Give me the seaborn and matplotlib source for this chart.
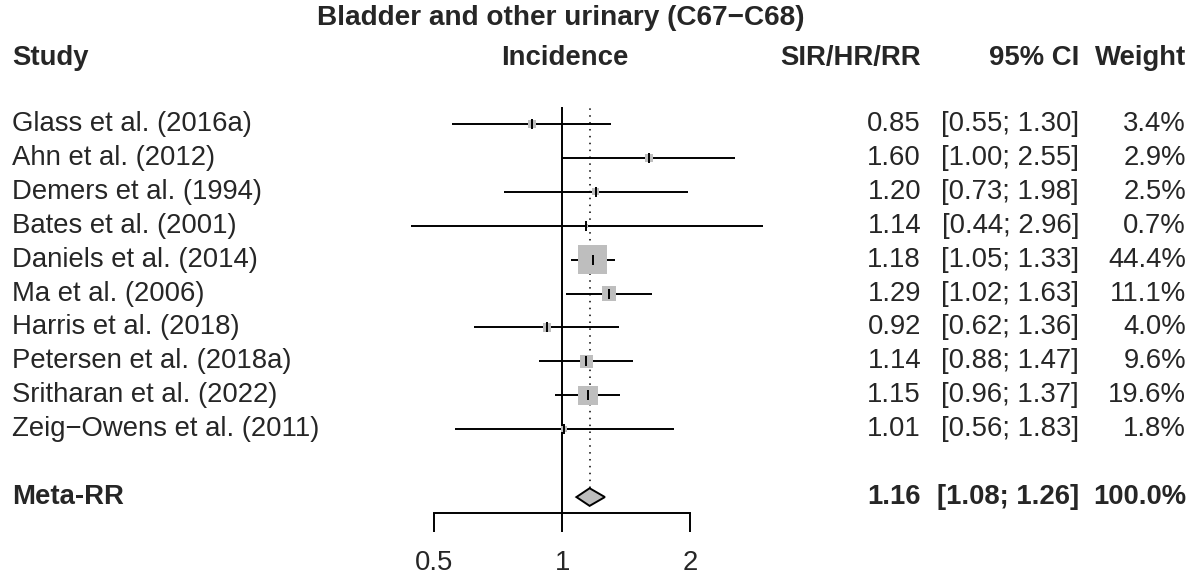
import numpy as np
import pandas as pd
import matplotlib
matplotlib.use("Agg")
import matplotlib.pyplot as plt
import matplotlib.transforms as mtransforms
import seaborn as sns

studies = ["Glass et al. (2016a)", "Ahn et al. (2012)", "Demers et al. (1994)",
           "Bates et al. (2001)", "Daniels et al. (2014)", "Ma et al. (2006)",
           "Harris et al. (2018)", "Petersen et al. (2018a)", "Sritharan et al. (2022)",
           "Zeig\u2212Owens et al. (2011)"]
estimate = [0.85, 1.60, 1.20, 1.14, 1.18, 1.29, 0.92, 1.14, 1.15, 1.01]
ci_low = [0.55, 1.00, 0.73, 0.44, 1.05, 1.02, 0.62, 0.88, 0.96, 0.56]
ci_high = [1.30, 2.55, 1.98, 2.96, 1.33, 1.63, 1.36, 1.47, 1.37, 1.83]
weight = [3.4, 2.9, 2.5, 0.7, 44.4, 11.1, 4.0, 9.6, 19.6, 1.8]

meta_label = "Meta-RR"
meta_est = 1.16
meta_low = 1.08
meta_high = 1.26
meta_weight = 100.0

title = "Bladder and other urinary (C67\u2212C68)"
headers = ["Study", "Incidence", "SIR/HR/RR", "95% CI", "Weight"]
tick_values = [0.5, 1, 2]
tick_labels = ["0.5", "1", "2"]

sns.set_theme(style="white")
plt.rcParams['font.family'] = ['Liberation Sans', 'DejaVu Sans']

W, H = 1192, 577
FS = 19.8
TFS = 20.2
fig = plt.figure(figsize=(W / 100, H / 100), dpi=100)
L, R, T, B = 393, 777, 107, 513
ax = fig.add_axes([L / W, 1 - B / H, (R - L) / W, (B - T) / H])

n = len(studies)
rows = np.arange(n)
meta_row = n + 1
df = pd.DataFrame({"study": studies, "est": estimate, "lo": ci_low, "hi": ci_high,
                   "w": weight, "row": rows})

ybot = meta_row + 0.47
ax.set_xscale("log")
ax.set_xlim(0.4, 3.2)
ax.set_ylim(ybot, -0.5)

# reference line at 1
ax.axvline(1, color="black", lw=1.4, zorder=1)

# dotted line at meta estimate, down to the diamond top
dh = 0.26
bot_frac = (ybot - (meta_row - dh)) / (ybot + 0.5)
ax.axvline(meta_est, ymin=bot_frac, ymax=1.0, color="black", lw=1.1,
           ls=(0, (1, 3.5)), zorder=1)

# CI lines
ax.hlines(df["row"], df["lo"], df["hi"], color="black", lw=1.4, zorder=2, clip_on=False)

# squares scaled by weight
sns.scatterplot(data=df, x="est", y="row", size="w",
                sizes=(9.6 * min(weight), 9.6 * max(weight)),
                size_norm=(min(weight), max(weight)),
                marker="s", color="#BEBEBE", edgecolor="none", linewidth=0,
                legend=False, ax=ax, zorder=3, clip_on=False)
# point estimate ticks
ax.scatter(df["est"], df["row"], marker="|", color="black", s=50, linewidths=1.4,
           zorder=4, clip_on=False)

# diamond
ax.fill([meta_low, meta_est, meta_high, meta_est],
        [meta_row, meta_row - dh, meta_row, meta_row + dh],
        facecolor="#BEBEBE", edgecolor="black", lw=1.4, zorder=4)

# axis styling
for s in ["left", "top", "right"]:
    ax.spines[s].set_visible(False)
ax.spines["bottom"].set_bounds(min(tick_values), max(tick_values))
ax.spines["bottom"].set_linewidth(1.4)
ax.spines["bottom"].set_color("black")
ax.set_xticks(tick_values)
ax.set_xticklabels(tick_labels, fontsize=FS)
ax.xaxis.set_minor_locator(matplotlib.ticker.NullLocator())
ax.tick_params(axis="x", direction="out", length=13.7, width=1.4, color="black",
               pad=13, bottom=True)
ax.set_yticks([])
ax.set_xlabel("")
ax.set_ylabel("")
ax.patch.set_alpha(0)

# text columns
tr = mtransforms.blended_transform_factory(fig.transFigure, ax.transData)
x_study, x_sir, x_ci, x_w = 12 / W, 921 / W, 1079 / W, 1186 / W
for _, r in df.iterrows():
    ax.text(x_study, r["row"], r["study"], transform=tr, ha="left", va="center", fontsize=FS)
    ax.text(x_sir, r["row"], f"{r['est']:.2f}", transform=tr, ha="right", va="center", fontsize=FS)
    ax.text(x_ci, r["row"], f"[{r['lo']:.2f}; {r['hi']:.2f}]", transform=tr, ha="right",
            va="center", fontsize=FS)
    ax.text(x_w, r["row"], f"{r['w']:.1f}%", transform=tr, ha="right", va="center", fontsize=FS)

ax.text(x_study, meta_row, meta_label, transform=tr, ha="left", va="center", fontsize=FS,
        fontweight="bold")
ax.text(x_sir, meta_row, f"{meta_est:.2f}", transform=tr, ha="right", va="center",
        fontsize=FS, fontweight="bold")
ax.text(x_ci, meta_row, f"[{meta_low:.2f}; {meta_high:.2f}]", transform=tr, ha="right",
        va="center", fontsize=FS, fontweight="bold")
ax.text(x_w, meta_row, f"{meta_weight:.1f}%", transform=tr, ha="right", va="center",
        fontsize=FS, fontweight="bold")

# headers
hy = 1 - 58 / H
fig.text(x_study, hy, headers[0], ha="left", va="center", fontsize=FS, fontweight="bold")
fig.text(565 / W, hy, headers[1], ha="center", va="center", fontsize=FS, fontweight="bold")
fig.text(x_sir, hy, headers[2], ha="right", va="center", fontsize=FS, fontweight="bold")
fig.text(x_ci, hy, headers[3], ha="right", va="center", fontsize=FS, fontweight="bold")
fig.text(x_w, hy, headers[4], ha="right", va="center", fontsize=FS, fontweight="bold")
fig.text(561 / W, 1 - 18 / H, title, ha="center", va="center", fontsize=TFS,
         fontweight="bold")

fig.savefig("out.png", dpi=100, facecolor="white")
